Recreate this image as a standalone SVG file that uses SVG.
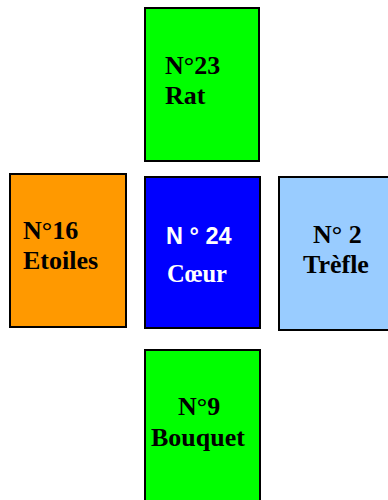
<svg xmlns="http://www.w3.org/2000/svg" width="388" height="500" viewBox="0 0 388 500">
<style>
.box{stroke:#000;stroke-width:2}
.t{font-family:"Liberation Serif","Times New Roman",serif;font-weight:bold;font-size:26px;fill:#000}
.w{fill:#fff;font-size:24.5px}
.s{font-family:"Liberation Sans",Arial,sans-serif;font-weight:bold;font-size:23.5px;fill:#fff}
</style>
<rect width="388" height="500" fill="#fff"/>
<g id="rat">
<rect class="box" x="145" y="8" width="114" height="153" fill="#00ff00"/>
<text class="t" x="165" y="74">N°23</text>
<text class="t" x="165" y="104">Rat</text>
</g>
<g id="etoiles">
<rect class="box" x="10" y="174" width="116" height="153" fill="#ff9900"/>
<text class="t" x="23" y="239">N°16</text>
<text class="t" x="23" y="269">Etoiles</text>
</g>
<g id="coeur">
<rect class="box" x="145" y="177" width="115" height="151" fill="#0000ff"/>
<text class="s" x="166" y="244">N ° 24</text>
<text class="t w" x="167" y="282">Cœur</text>
</g>
<g id="trefle">
<rect class="box" x="279" y="177" width="112" height="153" fill="#99ccff"/>
<text class="t" x="313" y="243">N° 2</text>
<text class="t" x="303" y="273">Trèfle</text>
</g>
<g id="bouquet">
<rect class="box" x="145" y="350" width="115" height="160" fill="#00ff00"/>
<text class="t" x="178" y="415">N°9</text>
<text class="t" x="151" y="446">Bouquet</text>
</g>
<g id="connectors"/>
</svg>
